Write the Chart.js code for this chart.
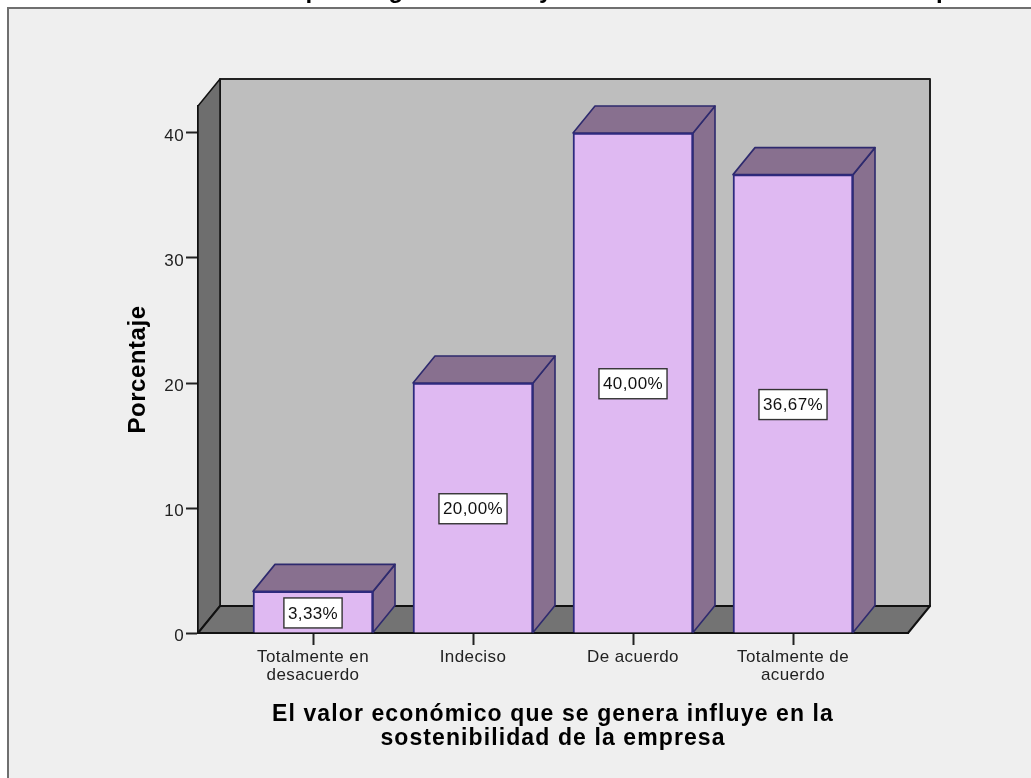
<!DOCTYPE html>
<html><head><meta charset="utf-8">
<style>html,body{margin:0;padding:0;background:#fff}canvas{display:block}</style>
<script src="https://cdn.jsdelivr.net/npm/chart.js@4/dist/chart.umd.min.js"></script>
</head><body><canvas id="c" width="1031" height="778"></canvas>
<script>
const categories = [["Totalmente en","desacuerdo"],["Indeciso"],["De acuerdo"],["Totalmente de","acuerdo"]];
const positions = [0,1,2,3];
const values = [3.33,20,40,36.67];
const valueLabels = ["3,33%","20,00%","40,00%","36,67%"];
const yTicks = [0,10,20,30,40];
const chartTitle = "El valor económico que se genera influye en la sostenibilidad de la empresa";
const xTitle = ["El valor económico que se genera influye en la","sostenibilidad de la empresa"];
const yTitle = "Porcentaje";

const DX = 22, DY = -27;
const FONT = "'Liberation Sans', Arial, sans-serif";
function poly(ctx, pts, fill, stroke, lw){
  ctx.beginPath();
  pts.forEach((p,i)=> i?ctx.lineTo(p[0],p[1]):ctx.moveTo(p[0],p[1]));
  ctx.closePath();
  if(fill){ctx.fillStyle=fill;ctx.fill();}
  if(stroke){ctx.strokeStyle=stroke;ctx.lineWidth=lw;ctx.lineJoin='round';ctx.stroke();}
}
function spaced(obj, name, ctx, spacing, dy){
  if(obj['_w_'+name]) return;
  obj['_w_'+name]=true;
  const orig=obj[name];
  obj[name]=function(...args){
    ctx.save(); ctx.letterSpacing=spacing; ctx.translate(0,dy||0);
    orig.apply(this,args);
    ctx.restore();
  };
}
const box3d = {
  id:'box3d',
  beforeDraw(chart){
    const c=chart.ctx;
    c.save();
    c.fillStyle='#efefef'; c.fillRect(8,8,1023,770);
    c.fillStyle='#6f6f6f'; c.fillRect(7,7,1024,2);
    c.fillRect(7,7,2,771);
    c.restore();
    chart.titleBlock.left=0; chart.titleBlock.right=1054;
    spaced(chart.titleBlock,'draw',c,'1.2px');
    spaced(chart.scales.x,'drawTitle',c,'1.1px');
    spaced(chart.scales.y,'drawTitle',c,'0.55px');
    spaced(chart.scales.x,'drawLabels',c,'0.4px');
    spaced(chart.scales.y,'drawLabels',c,'0.4px',3);
  },
  beforeDatasetsDraw(chart){
    const c=chart.ctx, a=chart.chartArea;
    const y0=chart.scales.y.getPixelForValue(0);
    c.save();
    const L=a.left,R=a.right,T=a.top;
    poly(c,[[L+DX,T+DY],[R+DX,T+DY],[R+DX,y0+DY],[L+DX,y0+DY]],'#bebebe','#222',2);
    poly(c,[[L,T],[L+DX,T+DY],[L+DX,y0+DY],[L,y0]],'#6e6e6e','#111',1.5);
    poly(c,[[L,y0],[L+DX,y0+DY],[R+DX,y0+DY],[R,y0]],'#737373','#111',2);
    chart.getDatasetMeta(0).data.forEach(b=>{
      const l=b.x-b.width/2, r=b.x+b.width/2, t=b.y, bt=b.base;
      poly(c,[[r,t],[r+DX,t+DY],[r+DX,bt+DY],[r,bt]],'#88708f','#2e2a6e',1.6);
      poly(c,[[l,t],[l+DX,t+DY],[r+DX,t+DY],[r,t]],'#88708f','#2e2a6e',1.6);
    });
    c.restore();
  },
  afterDatasetsDraw(chart){
    const c=chart.ctx;
    c.save();
    c.font="17px "+FONT; c.letterSpacing='0.4px'; c.textAlign='center'; c.textBaseline='middle';
    chart.getDatasetMeta(0).data.forEach((b,i)=>{
      const m=(b.y+b.base)/2, w=c.measureText(valueLabels[i]).width+8, h=30;
      c.fillStyle='#fff'; c.fillRect(b.x-w/2,m-h/2+1,w,h);
      c.strokeStyle='#333'; c.lineWidth=1.4; c.strokeRect(b.x-w/2,m-h/2+1,w,h);
      c.fillStyle='#111'; c.fillText(valueLabels[i],b.x,m+2);
    });
    c.restore();
  }
};
new Chart(document.getElementById('c'),{
  type:'bar',
  data:{datasets:[{data:positions.map((p,i)=>({x:p,y:values[i]})),
    backgroundColor:'#dfb9f2',borderColor:'#2e2a7e',borderWidth:2,barThickness:120}]},
  options:{
    responsive:false,animation:false,
    layout:{padding:{left:0,right:123,top:0,bottom:0}},
    plugins:{
      legend:{display:false},tooltip:{enabled:false},
      title:{display:true,text:chartTitle,color:'#000',align:'center',fullSize:true,
        font:{family:FONT,size:24,weight:'bold',lineHeight:1},
        padding:{top:-21,bottom:103}}
    },
    scales:{
      x:{type:'linear',offset:false,min:-0.71875,max:3.71875,
        afterBuildTicks(s){s.ticks=positions.map(v=>({value:v}));},
        afterFit(s){s.height=145;},
        grid:{display:true,offset:false,drawOnChartArea:false,drawTicks:true,tickLength:12,tickColor:'#222',tickWidth:2},
        border:{color:'#111',width:2},
        ticks:{autoSkip:false,maxRotation:0,color:'#222',padding:3,
          font:{family:FONT,size:17,lineHeight:'18px'},
          callback(v){return categories[v];}},
        title:{display:true,text:xTitle,color:'#000',
          font:{family:FONT,size:23,weight:'bold',lineHeight:'24px'},padding:{top:10,bottom:27}}
      },
      y:{min:0,max:42.16,
        afterBuildTicks(s){s.ticks=yTicks.map(v=>({value:v}));},
        afterFit(s){s.width=198;},
        grid:{display:true,drawOnChartArea:false,tickLength:12,tickColor:'#222',tickWidth:2},
        border:{color:'#111',width:2},
        ticks:{color:'#222',padding:2,font:{family:FONT,size:17}},
        title:{display:true,text:yTitle,color:'#000',
          font:{family:FONT,size:24,weight:'bold',lineHeight:'24px'},padding:{top:126,bottom:0}}
      }
    }
  },
  plugins:[box3d]
});
</script></body></html>
